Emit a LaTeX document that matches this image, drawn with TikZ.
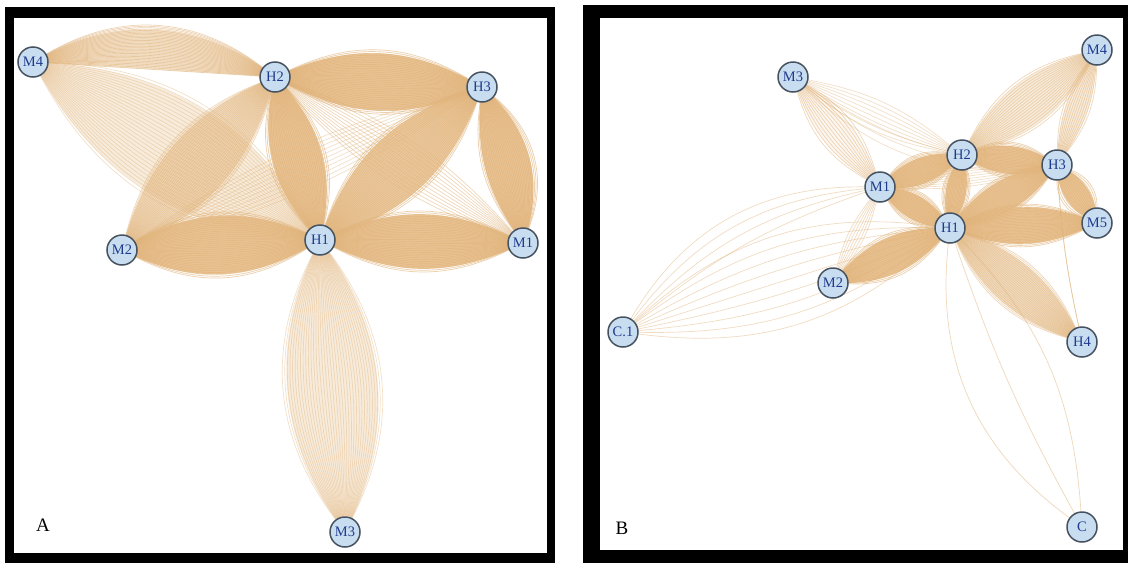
\documentclass[tikz,border=0pt]{standalone}
\usepackage{fontspec}
\setmainfont{Liberation Serif}
\pgfdeclarelayer{back}
\pgfdeclarelayer{bg}
\pgfsetlayers{back,bg,main}
\definecolor{edgecol}{RGB}{224,178,120}
\definecolor{lensfill}{RGB}{231,189,137}
\definecolor{nodefill}{RGB}{200,222,240}
\definecolor{nodeline}{RGB}{70,82,96}
\definecolor{nodetext}{RGB}{30,58,140}
\tikzset{
  nd/.style={circle,fill=nodefill,draw=nodeline,line width=1.5pt,minimum size=30pt,inner sep=0pt,
    text=nodetext,font=\fontsize{14.5}{15}\selectfont},
  edgeline/.style={draw=edgecol,line width=0.7pt},
  panellabel/.style={font=\fontsize{19}{19}\selectfont,text=black}
}
% from, to, bend1, bend2, count, line opacity, fill opacity
\newcommand\bund[7]{%
  \pgfmathsetmacro\bneg{-(#4)}%
  \fill[lensfill,fill opacity=#7] (#1.center) to[bend left=#3] (#2.center) to[bend left=\bneg] (#1.center) -- cycle;
  \foreach \k in {0,...,#5}{%
    \pgfmathsetmacro\bang{#3+(#4-#3)*\k/#5}%
    \draw[edgeline,draw opacity=#6] (#1) to[bend left=\bang] (#2);
  }}
\begin{document}
\begin{tikzpicture}[x=1pt,y=-1pt]
\useasboundingbox (0,0) rectangle (1128,563);
\begin{pgfonlayer}{back}
\fill[white] (0,0) rectangle (1128,563);
\fill[black] (5,7) rectangle (555,563);
\fill[white] (14,18) rectangle (547,553);
\fill[black] (583,5) rectangle (1128,563);
\fill[white] (600,18) rectangle (1123,550);
\end{pgfonlayer}
% ---------- Panel A ----------
\node[nd] (aM4) at (33,62) {M4};
\node[nd] (aH2) at (275,77) {H2};
\node[nd] (aH3) at (482,87) {H3};
\node[nd] (aH1) at (320,240) {H1};
\node[nd] (aM1) at (523,243) {M1};
\node[nd] (aM2) at (122,250) {M2};
\node[nd] (aM3) at (345,532) {M3};
\node[panellabel] (la) at (43,525) {A};
\begin{pgfonlayer}{bg}
\bund{aM4}{aH1}{-30}{30}{30}{0.4}{0.3}
\bund{aM4}{aH2}{0}{34}{30}{0.55}{0.4}
\bund{aM2}{aH2}{-27}{27}{34}{0.5}{0.5}
\bund{aM2}{aH3}{-10}{10}{10}{0.4}{0}
\bund{aM2}{aH1}{-30}{30}{34}{0.6}{0.9}
\bund{aH2}{aH1}{-30}{30}{30}{0.6}{0.9}
\bund{aH2}{aH3}{-28}{28}{34}{0.6}{0.9}
\bund{aH2}{aM1}{-14}{14}{12}{0.5}{0}
\bund{aH3}{aH1}{-28}{28}{34}{0.6}{0.8}
\bund{aH3}{aM1}{-22}{36}{30}{0.6}{0.9}
\bund{aH1}{aM1}{-27}{27}{34}{0.6}{0.9}
\bund{aH1}{aM3}{-32}{32}{36}{0.4}{0.3}
\end{pgfonlayer}
% ---------- Panel B ----------
\node[nd] (bM3) at (793,77) {M3};
\node[nd] (bM4) at (1097,50) {M4};
\node[nd] (bH2) at (962,155) {H2};
\node[nd] (bH3) at (1057,165) {H3};
\node[nd] (bM1) at (880,187) {M1};
\node[nd] (bH1) at (950,228) {H1};
\node[nd] (bM5) at (1097,223) {M5};
\node[nd] (bM2) at (833,283) {M2};
\node[nd] (bC1) at (623,332) {C.1};
\node[nd] (bH4) at (1082,342) {H4};
\node[nd] (bC) at (1082,527) {C};
\node[panellabel] (lb) at (622,528) {B};
\begin{pgfonlayer}{bg}
\bund{bM3}{bM1}{-22}{22}{12}{0.5}{0.12}
\bund{bM3}{bH2}{-14}{14}{7}{0.4}{0}
\bund{bM3}{bH3}{-25}{-15}{2}{0.4}{0}
\bund{bM4}{bH2}{-25}{25}{20}{0.5}{0.3}
\bund{bM4}{bH3}{-18}{18}{12}{0.5}{0.3}
\bund{bM1}{bH3}{-10}{10}{8}{0.4}{0}
\bund{bM2}{bM1}{-12}{12}{6}{0.45}{0}
\bund{bH2}{bH3}{-30}{30}{24}{0.6}{0.9}
\bund{bH2}{bM1}{-30}{30}{24}{0.6}{0.9}
\bund{bM1}{bH1}{-30}{30}{24}{0.6}{0.9}
\bund{bH2}{bH1}{-28}{28}{20}{0.6}{0.9}
\bund{bH3}{bH1}{-25}{25}{26}{0.6}{0.85}
\bund{bH1}{bM5}{-25}{25}{28}{0.6}{0.9}
\bund{bH3}{bM5}{-35}{35}{16}{0.6}{0.9}
\bund{bH1}{bM2}{-28}{28}{24}{0.6}{0.9}
\bund{bH1}{bH4}{-25}{25}{28}{0.5}{0.5}
\bund{bC1}{bH1}{-25}{25}{8}{0.45}{0}
\bund{bC1}{bM1}{10}{30}{3}{0.45}{0}
\bund{bH1}{bC}{-30}{20}{2}{0.5}{0}
\bund{bH3}{bH4}{-4}{-4}{1}{0.5}{0}
\end{pgfonlayer}
\end{tikzpicture}
\end{document}
